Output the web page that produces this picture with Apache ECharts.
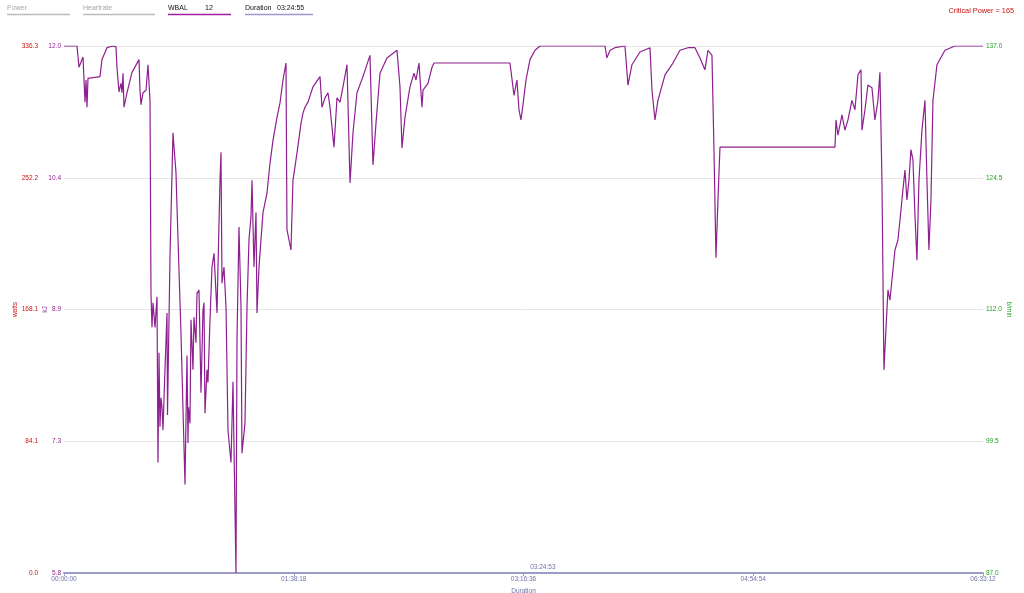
<!DOCTYPE html>
<html>
<head>
<meta charset="utf-8">
<script src="https://cdn.jsdelivr.net/npm/echarts@6/dist/echarts.min.js"></script>
<style>
  html, body { margin: 0; padding: 0; background: #fff; }
  #chart { width: 1024px; height: 593px; }
</style>
</head>
<body>
<div id="chart"></div>
<script>
// W'bal over the ride, seconds from start -> kJ
var wbalSeconds = [
  0, 334, 359, 385, 488, 539, 565, 590, 616, 924, 975, 1104, 1258, 1335, 1361, 1412, 1463, 1489, 1515, 1540,
  1617, 1746, 1925, 1951, 1977, 2028, 2105, 2156, 2208, 2233, 2259, 2285, 2336, 2387, 2413, 2439, 2464, 2490, 2516, 2541,
  2593, 2644, 2657, 2721, 2798, 2824, 2875, 2901, 3003, 3106, 3157, 3183, 3196, 3234, 3260, 3311, 3337, 3388, 3414, 3465,
  3517, 3568, 3594, 3619, 3671, 3696, 3748, 3799, 3851, 3928, 3953, 4005, 4030, 4056, 4107, 4159, 4210, 4287, 4338, 4415,
  4441, 4492, 4544, 4569, 4646, 4698, 4749, 4800, 4826, 4877, 4929, 4954, 5006, 5108, 5211, 5288, 5365, 5468, 5545, 5622,
  5699, 5724, 5827, 5878, 5981, 6084, 6135, 6186, 6263, 6392, 6572, 6623, 6700, 6777, 6828, 6931, 7008, 7085, 7162, 7265,
  7342, 7419, 7521, 7675, 7855, 7932, 8009, 8112, 8291, 8548, 8574, 8625, 8677, 8753, 8882, 8985, 9036, 9113, 9190, 9216,
  9344, 9447, 9498, 11449, 11500, 11552, 11628, 11680, 11731, 11783, 11860, 11962, 12091, 12219, 13887, 13938, 14016, 14144, 14401, 14478,
  14580, 14786, 15043, 15094, 15171, 15248, 15428, 15607, 15813, 16018, 16198, 16326, 16454, 16531, 16634, 16686, 16737, 16788, 16840, 19792,
  19818, 19869, 19971, 20048, 20125, 20228, 20305, 20382, 20459, 20485, 20562, 20638, 20741, 20818, 20895, 20946, 20998, 21049, 21100, 21152,
  21203, 21255, 21332, 21409, 21460, 21537, 21588, 21640, 21691, 21742, 21794, 21845, 21896, 21948, 22025, 22102, 22153, 22204, 22256, 22307,
  22410, 22615, 22872, 23592
];
var wbalKJ = [
  12.0, 12.0, 11.99, 11.75, 11.87, 11.34, 11.60, 11.28, 11.62, 11.64, 11.84, 11.98, 12.0, 11.99, 11.74, 11.46, 11.56, 11.45, 11.68, 11.28,
  11.45, 11.69, 11.84, 11.48, 11.31, 11.45, 11.48, 11.78, 11.36, 9.09, 8.69, 8.98, 8.69, 9.05, 7.10, 8.39, 7.52, 7.86, 7.75, 7.48,
  8.21, 8.86, 7.66, 9.52, 10.98, 10.81, 10.51, 10.11, 8.62, 6.84, 8.36, 7.33, 7.75, 7.56, 8.78, 8.19, 8.81, 8.51, 9.09, 9.13,
  7.92, 8.89, 8.98, 7.68, 8.19, 8.04, 8.78, 9.40, 9.56, 8.86, 9.40, 10.42, 10.75, 9.21, 9.40, 8.93, 7.48, 7.10, 8.05, 5.80,
  8.54, 9.87, 8.93, 7.21, 7.56, 8.93, 9.72, 9.99, 10.42, 9.40, 10.04, 8.86, 9.40, 10.04, 10.27, 10.62, 10.89, 11.16, 11.33, 11.60,
  11.80, 9.84, 9.60, 10.42, 10.74, 11.09, 11.21, 11.28, 11.34, 11.52, 11.64, 11.28, 11.39, 11.45, 11.28, 10.81, 11.39, 11.34, 11.52, 11.78,
  10.39, 10.98, 11.45, 11.64, 11.89, 10.60, 11.09, 11.68, 11.86, 11.95, 11.95, 11.52, 10.80, 11.16, 11.52, 11.68, 11.60, 11.80, 11.28, 11.48,
  11.56, 11.75, 11.80, 11.80, 11.78, 11.42, 11.60, 11.25, 11.13, 11.31, 11.60, 11.84, 11.95, 12.0, 12.0, 11.86, 11.95, 11.98, 12.0, 11.54,
  11.78, 11.93, 11.98, 11.48, 11.13, 11.36, 11.66, 11.78, 11.95, 11.98, 11.98, 11.86, 11.72, 11.95, 11.89, 10.78, 9.51, 10.19, 10.81, 10.81,
  11.13, 10.95, 11.19, 11.01, 11.13, 11.36, 11.25, 11.66, 11.72, 11.01, 11.25, 11.54, 11.51, 11.13, 11.36, 11.69, 10.42, 8.19, 8.66, 9.13,
  9.01, 9.25, 9.60, 9.72, 9.95, 10.31, 10.54, 10.19, 10.42, 10.78, 10.66, 10.01, 9.48, 10.42, 11.01, 11.36, 10.42, 9.60, 10.19, 11.36,
  11.78, 11.95, 12.0, 12.0
];

var durationTicks = ['00:00:00', '01:38:18', '03:16:36', '04:54:54', '06:33:12'];
var powerTickLabels = ['0.0', '84.1', '168.1', '252.2', '336.3'];
var wbalTickLabels = ['5.8', '7.3', '8.9', '10.4', '12.0'];
var hrTickLabels = ['87.0', '99.5', '112.0', '124.5', '137.0'];
var wbalMarker = 11.11;
var cursorSeconds = 12293;  // 03:24:53
var criticalPower = 165;

var FONT = '"Liberation Sans", Arial, sans-serif';
var PURPLE = '#8e1f90';
var RED = '#cc1111';
var GREEN = '#22a022';
var AXIS_BLUE = '#7070a8';

function pad(n) { return (n < 10 ? '0' : '') + n; }
function hms(s) {
  s = Math.round(s);
  return pad(Math.floor(s / 3600)) + ':' + pad(Math.floor(s % 3600 / 60)) + ':' + pad(s % 60);
}

var wbalData = wbalSeconds.map(function (t, i) { return [t, wbalKJ[i]]; });

var chart = echarts.init(document.getElementById('chart'));

var option = {
  animation: false,
  textStyle: { fontFamily: FONT },
  grid: { left: 64, right: 41, top: 46, bottom: 20, containLabel: false, outerBoundsMode: 'none' },
  xAxis: {
    type: 'value',
    min: 0,
    max: 23592,
    interval: 5898,
    name: 'Duration',
    nameLocation: 'middle',
    nameGap: 15,
    nameMoveOverlap: false,
    nameTextStyle: { color: AXIS_BLUE, fontSize: 6.5 },
    axisLine: { lineStyle: { color: '#9c9ccc', width: 2 } },
    axisTick: { length: 3, lineStyle: { color: '#9c9ccc' } },
    axisLabel: {
      color: AXIS_BLUE, fontSize: 6.5, margin: 3,
      formatter: function (v) { return durationTicks[Math.round(v / 5898)]; }
    },
    splitLine: { show: false }
  },
  yAxis: [{
    // W'bal (kJ)
    type: 'value',
    position: 'left',
    min: 5.8,
    max: 12.0,
    interval: 1.55,
    name: 'kJ',
    nameLocation: 'middle',
    nameGap: 15,
    nameMoveOverlap: false,
    nameTextStyle: { color: PURPLE, fontSize: 6.5 },
    axisLine: { show: false },
    axisTick: { show: false },
    axisLabel: {
      color: PURPLE, fontSize: 6.5, margin: 3,
      formatter: function (v) { return wbalTickLabels[Math.round((v - 5.8) / 1.55)]; }
    },
    splitLine: { lineStyle: { color: '#e6e6e6', width: 1 } }
  }, {
    // Power (watts)
    type: 'value',
    position: 'left',
    offset: 23,
    min: 0,
    max: 336.3,
    interval: 84.075,
    name: 'watts',
    nameLocation: 'middle',
    nameGap: 22,
    nameMoveOverlap: false,
    nameTextStyle: { color: RED, fontSize: 6.5 },
    axisLine: { show: false },
    axisTick: { show: false },
    axisLabel: {
      color: RED, fontSize: 6.5, margin: 3,
      formatter: function (v) { return powerTickLabels[Math.round(v / 84.075)]; }
    },
    splitLine: { show: false }
  }, {
    // Heartrate (b/min)
    type: 'value',
    position: 'right',
    min: 87,
    max: 137,
    interval: 12.5,
    name: 'b/min',
    nameLocation: 'middle',
    nameGap: 22,
    nameRotate: -90,
    nameMoveOverlap: false,
    nameTextStyle: { color: GREEN, fontSize: 6.5 },
    axisLine: { show: false },
    axisTick: { show: false },
    axisLabel: {
      color: GREEN, fontSize: 6.5, margin: 3,
      formatter: function (v) { return hrTickLabels[Math.round((v - 87) / 12.5)]; }
    },
    splitLine: { show: false }
  }],
  series: [{
    name: 'WBAL',
    type: 'line',
    yAxisIndex: 0,
    data: wbalData,
    symbol: 'none',
    lineStyle: { color: PURPLE, width: 1.2 },
    markLine: {
      silent: true,
      symbol: 'none',
      lineStyle: { opacity: 0 },
      label: { position: 'start', distance: 3, color: PURPLE, fontSize: 6.5, formatter: String(wbalMarker) },
      data: [{ yAxis: wbalMarker }]
    }
  }, {
    name: 'Power', type: 'line', yAxisIndex: 1, data: []
  }, {
    name: 'Heartrate', type: 'line', yAxisIndex: 2, data: []
  }]
};

chart.setOption(option);

// legend strip, critical power and cursor time
var cursorPos = chart.convertToPixel({ gridIndex: 0 }, [cursorSeconds, 5.8]);
chart.setOption({
  graphic: [
    { type: 'text', left: 7, top: 5, style: { text: 'Power', fill: '#a8a8a8', font: '7px ' + FONT } },
    { type: 'line', shape: { x1: 7, y1: 14.5, x2: 70, y2: 14.5 }, style: { stroke: '#bdbdbd', lineWidth: 1.5 } },
    { type: 'text', left: 83, top: 5, style: { text: 'Heartrate', fill: '#a8a8a8', font: '7px ' + FONT } },
    { type: 'line', shape: { x1: 83, y1: 14.5, x2: 155, y2: 14.5 }, style: { stroke: '#bdbdbd', lineWidth: 1.5 } },
    { type: 'text', left: 168, top: 5, style: { text: 'WBAL', fill: '#111', font: '7px ' + FONT } },
    { type: 'text', left: 205, top: 5, style: { text: '12', fill: '#111', font: '7px ' + FONT } },
    { type: 'line', shape: { x1: 168, y1: 14.5, x2: 231, y2: 14.5 }, style: { stroke: '#a0209e', lineWidth: 1.5 } },
    { type: 'text', left: 245, top: 5, style: { text: 'Duration', fill: '#111', font: '7px ' + FONT } },
    { type: 'text', left: 277, top: 5, style: { text: '03:24:55', fill: '#111', font: '7px ' + FONT } },
    { type: 'line', shape: { x1: 245, y1: 14.5, x2: 313, y2: 14.5 }, style: { stroke: '#9c9ccc', lineWidth: 1.5 } },
    { type: 'text', right: 10, top: 7, style: { text: 'Critical Power = ' + criticalPower, fill: RED, font: '7.3px ' + FONT } },
    { type: 'text', x: cursorPos[0], y: cursorPos[1] - 2,
      style: { text: hms(cursorSeconds), fill: AXIS_BLUE, font: '6.5px ' + FONT, textAlign: 'center', textVerticalAlign: 'bottom' } }
  ]
});
</script>
</body>
</html>
